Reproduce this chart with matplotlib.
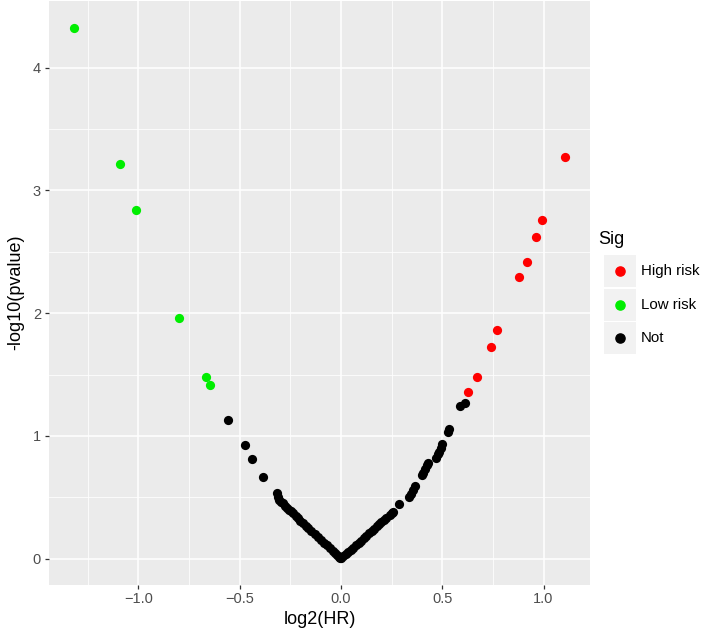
import matplotlib
matplotlib.use("Agg")
import matplotlib.pyplot as plt
from matplotlib.patches import Rectangle
from matplotlib.lines import Line2D

plt.rcParams["font.family"] = ["Liberation Sans", "DejaVu Sans"]

# Significant genes
high_x = [1.108, 0.994, 0.962, 0.916, 0.878, 0.769, 0.743, 0.671, 0.625]
high_y = [3.276, 2.759, 2.623, 2.416, 2.297, 1.859, 1.728, 1.480, 1.355]
low_x = [-1.319, -1.089, -1.011, -0.797, -0.665, -0.644]
low_y = [4.328, 3.218, 2.840, 1.962, 1.480, 1.412]

# Not significant genes
not_x = [-0.558, -0.474, -0.439, -0.383, -0.317, -0.310,
         -0.305, -0.295, -0.285, -0.275, -0.265, -0.255, -0.245, -0.235,
         -0.220, -0.210, -0.200, -0.185, -0.170, -0.160, -0.145, -0.130,
         -0.115, -0.100, -0.085, -0.070, -0.055, -0.040, -0.030, -0.020,
         -0.010, -0.003,
         0.003, 0.012, 0.025, 0.035, 0.050, 0.060, 0.075, 0.090, 0.100,
         0.115, 0.125, 0.140, 0.155, 0.165, 0.180, 0.190, 0.200, 0.215,
         0.225, 0.240, 0.250, 0.259, 0.287,
         0.335, 0.345, 0.355, 0.366, 0.400, 0.405, 0.415, 0.425, 0.430,
         0.470, 0.478, 0.485, 0.493, 0.500, 0.530, 0.535, 0.589, 0.613]
not_y = [1.132, 0.925, 0.808, 0.667, 0.533, 0.500,
         0.480, 0.465, 0.450, 0.430, 0.415, 0.400, 0.385, 0.370,
         0.345, 0.330, 0.310, 0.290, 0.265, 0.250, 0.225, 0.200,
         0.180, 0.155, 0.130, 0.110, 0.085, 0.060, 0.045, 0.030,
         0.015, 0.005,
         0.005, 0.018, 0.037, 0.052, 0.073, 0.090, 0.110, 0.130, 0.145,
         0.170, 0.185, 0.205, 0.225, 0.245, 0.265, 0.280, 0.295, 0.315,
         0.330, 0.355, 0.370, 0.378, 0.446,
         0.505, 0.530, 0.560, 0.590, 0.680, 0.700, 0.730, 0.760, 0.780,
         0.820, 0.850, 0.870, 0.900, 0.930, 1.030, 1.060, 1.240, 1.265]

sig_labels = ["High risk", "Low risk", "Not"]
sig_colors = ["#FF0000", "#00EE00", "#000000"]

x_ticks = [-1.0, -0.5, 0.0, 0.5, 1.0]
y_ticks = [0, 1, 2, 3, 4]

fig = plt.figure(figsize=(7.09, 6.37), dpi=100)
ax = fig.add_axes([49 / 709, 1 - 584.5 / 637, 541 / 709, 583.5 / 637])
ax.set_facecolor("#EBEBEB")

ms = 44
ax.scatter(not_x, not_y, s=ms, color=sig_colors[2], linewidths=0, zorder=3)
ax.scatter(high_x, high_y, s=ms, color=sig_colors[0], linewidths=0, zorder=3)
ax.scatter(low_x, low_y, s=ms, color=sig_colors[1], linewidths=0, zorder=3)

# ggplot-style 5% expansion
all_x = high_x + low_x + not_x
all_y = high_y + low_y + not_y
xr = max(all_x) - min(all_x)
yr = max(all_y) - min(all_y)
ax.set_xlim(min(all_x) - 0.05 * xr, max(all_x) + 0.05 * xr)
ax.set_ylim(min(all_y) - 0.05 * yr, max(all_y) + 0.05 * yr)

ax.set_xticks(x_ticks)
ax.set_xticklabels([f"{v:.1f}".replace("-", "\u2212") for v in x_ticks])
ax.set_yticks(y_ticks)
ax.set_yticklabels([str(v) for v in y_ticks])
ax.set_xticks([-1.25, -0.75, -0.25, 0.25, 0.75], minor=True)
ax.set_yticks([0.5, 1.5, 2.5, 3.5], minor=True)

ax.grid(True, which="major", color="white", linewidth=1.1)
ax.grid(True, which="minor", color="white", linewidth=0.55)
ax.set_axisbelow(True)
for sp in ax.spines.values():
    sp.set_visible(False)
ax.tick_params(which="major", length=3.2, width=0.9, color="#333333",
               labelcolor="#4D4D4D", labelsize=10.5, pad=2.5)
ax.tick_params(which="minor", length=0)

ax.set_xlabel("log2(HR)", fontsize=13, color="black", labelpad=3)
ax.set_ylabel("-log10(pvalue)", fontsize=13, color="black", labelpad=6)

# legend drawn like ggplot's guide
W, H = 709, 637
fig.text(598 / W, 1 - 240 / H, "Sig", fontsize=13, va="center", ha="left")
for i, (lab, col) in enumerate(zip(sig_labels, sig_colors)):
    cy = 271 + i * 33.5
    fig.patches.append(Rectangle((604 / W, 1 - (cy + 16) / H), 32 / W, 32 / H,
                                 transform=fig.transFigure, facecolor="#F2F2F2",
                                 edgecolor="none"))
    fig.lines.append(Line2D([620 / W], [1 - cy / H], transform=fig.transFigure,
                            marker="o", markersize=6.6, color=col, linestyle="none"))
    fig.text(641 / W, 1 - cy / H, lab, fontsize=10.8, va="center", ha="left")

fig.savefig("out.png", dpi=100)
